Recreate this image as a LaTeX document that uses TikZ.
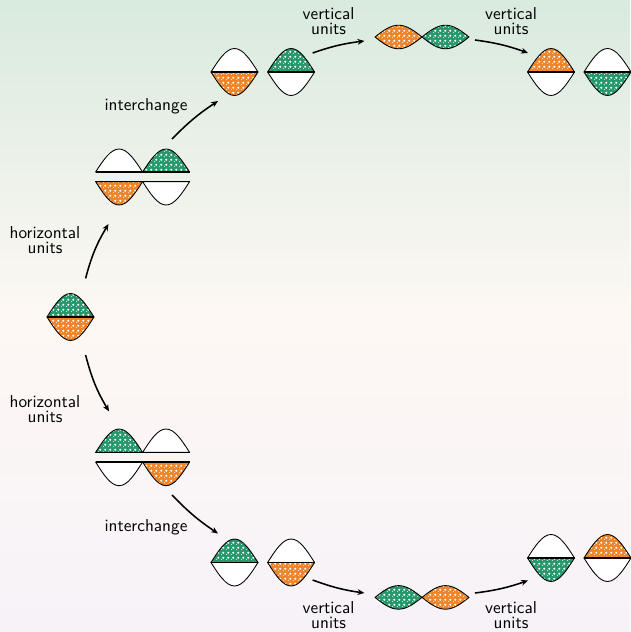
\documentclass[tikz,border=0pt]{standalone}
\usepackage{fontspec}
\usetikzlibrary{patterns,arrows.meta}
\pgfdeclarepatternformonly{bigdots}{\pgfpointorigin}{\pgfqpoint{3pt}{3pt}}{\pgfqpoint{3pt}{3pt}}
{
  \pgfpathcircle{\pgfqpoint{0pt}{0pt}}{.75pt}
  \pgfpathcircle{\pgfqpoint{1.5pt}{1.5pt}}{.75pt}
  \pgfusepath{fill}
}
\definecolor{myorange}{RGB}{238,133,42}
\definecolor{mygreen}{RGB}{38,152,108}
\definecolor{bgtop}{RGB}{217,234,223}
\definecolor{bgmid}{RGB}{253,248,243}
\definecolor{bgbot}{RGB}{247,242,248}
\tikzset{
 outl/.style={draw=black, line width=0.5pt, line join=round},
 wh/.style={outl, fill=white},
 og/.style={outl, preaction={fill=myorange}, pattern=bigdots, pattern color=white},
 gr/.style={outl, preaction={fill=mygreen}, pattern=bigdots, pattern color=white},
 midline/.style={draw=black, line width=0.9pt},
 arr/.style={line width=0.9pt, -{Stealth[length=4pt,width=3.4pt]}},
 lbl/.style={font=\sffamily, align=center, inner sep=0pt},
}
% dome: x left, y base, height (positive = up), style
\newcommand{\domeU}[4]{\path[#4] (#1,#2) sin ({#1+23.5},{#2-(#3)}) cos ({#1+47},#2) -- cycle;}
% pair: x left, y mid, top style, bottom style
\newcommand{\pairS}[4]{\domeU{#1}{#2}{23.5}{#3}\domeU{#1}{#2}{-23.5}{#4}\draw[midline] (#1,#2) -- ({#1+47},#2);}
% lens: x left, y mid, half height, style
\newcommand{\lensS}[4]{\path[#4] (#1,#2) sin ({#1+23.5},{#2-(#3)}) cos ({#1+47},#2) sin ({#1+23.5},{#2+(#3)}) cos (#1,#2) -- cycle;}
\begin{document}
\begin{tikzpicture}[x=0.58pt,y=-0.58pt]
\path[use as bounding box, top color=bgtop, bottom color=bgbot, middle color=bgmid] (0,0) rectangle (630,632);
% start
\pairS{47}{317}{gr}{og}
% upper horizontal units
\domeU{95.6}{172}{23}{wh}
\domeU{142.6}{172}{23}{gr}
\draw[midline] (95.6,172) -- (189.6,172);
\domeU{95.6}{181.6}{-23.4}{og}
\domeU{142.6}{181.6}{-23.4}{wh}
\draw[midline] (95.6,181.6) -- (189.6,181.6);
% lower horizontal units
\domeU{95.6}{452.4}{23.4}{gr}
\domeU{142.6}{452.4}{23.4}{wh}
\draw[midline] (95.6,452.4) -- (189.6,452.4);
\domeU{95.6}{462}{-23.7}{wh}
\domeU{142.6}{462}{-23.7}{og}
\draw[midline] (95.6,462) -- (189.6,462);
% interchange results
\pairS{211}{72}{wh}{og}
\pairS{267.6}{72}{gr}{wh}
\pairS{211}{562.5}{gr}{wh}
\pairS{267.6}{562.5}{wh}{og}
% lenses
\lensS{375}{37}{11.8}{og}
\lensS{422}{37}{11.8}{gr}
\lensS{375}{597.4}{11.8}{gr}
\lensS{422}{597.4}{11.8}{og}
% final
\pairS{527.5}{72}{og}{wh}
\pairS{584}{72}{wh}{gr}
\pairS{527.5}{558}{wh}{gr}
\pairS{584}{558}{og}{wh}
% labels
\node[lbl] (lh1) at (45,240) {horizontal\\[-3.5pt]units};
\node[lbl] (lh2) at (45,409) {horizontal\\[-3.5pt]units};
\node[lbl] (li1) at (146,106.5) {interchange};
\node[lbl] (li2) at (146,527) {interchange};
\node[lbl] (lv1) at (328.6,21) {vertical\\[-3.5pt]units};
\node[lbl] (lv2) at (511,21) {vertical\\[-3.5pt]units};
\node[lbl] (lv3) at (328.6,615) {vertical\\[-3.5pt]units};
\node[lbl] (lv4) at (511,615) {vertical\\[-3.5pt]units};
% arrow ends
\coordinate (a1s) at (85.6,278.4); \coordinate (a1e) at (108.5,224);
\coordinate (a2s) at (85.6,355);   \coordinate (a2e) at (109,411.4);
\coordinate (a3s) at (172,139);    \coordinate (a3e) at (218,101);
\coordinate (a4s) at (172,495);    \coordinate (a4e) at (218,533.5);
\coordinate (a5s) at (312.6,53);   \coordinate (a5e) at (364.4,41);
\coordinate (a6s) at (475,40);     \coordinate (a6e) at (528,53);
\coordinate (a7s) at (312.6,580);  \coordinate (a7e) at (364.4,593);
\coordinate (a8s) at (475,593);    \coordinate (a8e) at (528,580.5);
\draw[arr] (a1s) to[bend left=8] (a1e);
\draw[arr] (a2s) to[bend right=8] (a2e);
\draw[arr] (a3s) to[bend left=6] (a3e);
\draw[arr] (a4s) to[bend right=6] (a4e);
\draw[arr] (a5s) to[bend left=6] (a5e);
\draw[arr] (a6s) to[bend left=6] (a6e);
\draw[arr] (a7s) to[bend right=6] (a7e);
\draw[arr] (a8s) to[bend right=6] (a8e);
\end{tikzpicture}
\end{document}
